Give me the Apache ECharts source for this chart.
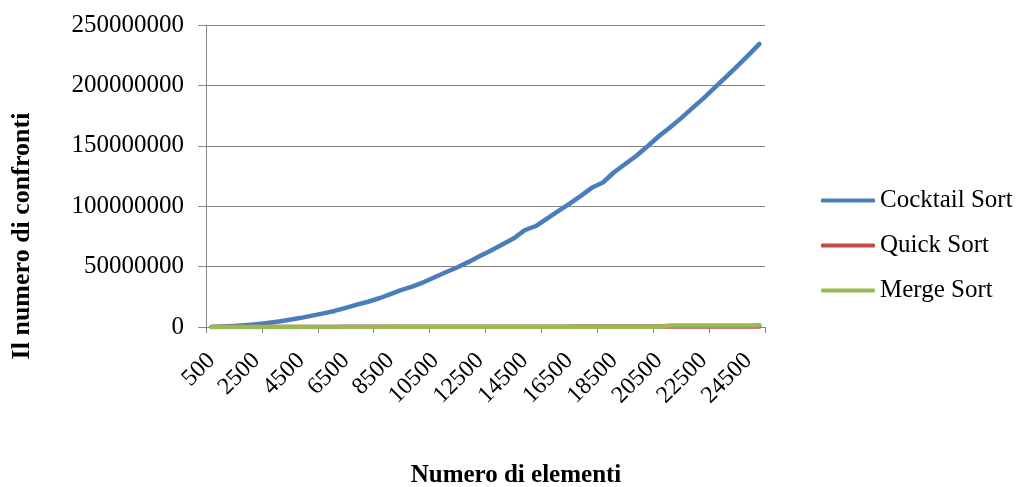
<!DOCTYPE html>
<html>
<head>
<meta charset="utf-8">
<script src="https://cdn.jsdelivr.net/npm/echarts@6/dist/echarts.min.js"></script>
<style>
html,body{margin:0;padding:0;background:#fff;}
#chart{width:1026px;height:487px;}
</style>
</head>
<body>
<div id="chart"></div>
<script>
const categories = [];
for (let n = 500; n <= 25000; n += 500) categories.push(String(n));

const seriesNames = ['Cocktail Sort', 'Quick Sort', 'Merge Sort'];

const cocktailSort = [95000, 380000, 850000, 1520000, 2360000, 3400000, 4610000, 6050000, 7580000, 9450000,
  11300000, 13300000, 15900000, 18500000, 20900000, 23800000, 27300000, 30800000, 33600000, 37200000,
  41400000, 45500000, 49500000, 53900000, 58700000, 63400000, 68200000, 73200000, 80100000, 83600000,
  89800000, 95900000, 102000000, 108300000, 115200000, 119600000, 128100000, 134900000, 141800000, 149600000,
  157900000, 165200000, 172900000, 181200000, 189300000, 198100000, 206900000, 215800000, 224900000, 234400000];

const quickSort = [5800, 13000, 21000, 29000, 37500, 46000, 55000, 64000, 73000, 82000,
  91000, 100500, 110000, 119500, 129000, 138500, 148000, 158000, 167500, 177000,
  187000, 197000, 206500, 216500, 226500, 236500, 246500, 256000, 266500, 276500,
  286500, 296500, 306500, 317000, 327000, 337000, 347500, 357500, 368000, 378000,
  388500, 399000, 409000, 419500, 430000, 440500, 451000, 461500, 472000, 482500];

const mergeSort = [3900, 8700, 14000, 19400, 25000, 30800, 36600, 42600, 48600, 54700,
  60900, 67200, 73500, 79900, 86300, 92800, 99300, 105900, 112500, 119200,
  125900, 132600, 139400, 146200, 153000, 159900, 166800, 173700, 180700, 187700,
  194700, 201800, 208900, 216000, 223100, 230300, 237500, 244700, 251900, 259200,
  266500, 1150000, 1180000, 1210000, 1230000, 1260000, 1290000, 1320000, 1340000, 1370000];

const yTicks = { min: 0, max: 250000000, interval: 50000000 };
const yTitle = 'Il numero di confronti';
const xTitle = 'Numero di elementi';

const FONT = '"Liberation Serif", "Times New Roman", serif';
const GRAY = '#868686';
const colors = ['#4A7EBB', '#BE4B48', '#98B954'];

const chart = echarts.init(document.getElementById('chart'), null, { renderer: 'canvas' });
chart.setOption({
  animation: false,
  color: colors,
  grid: { left: 206, right: 261, top: 25, bottom: 160, containLabel: false },
  xAxis: {
    type: 'category',
    data: categories,
    boundaryGap: true,
    axisLine: { lineStyle: { color: GRAY, width: 1 } },
    axisTick: { show: true, interval: 4, length: 6, lineStyle: { color: GRAY } },
    axisLabel: { interval: 3, rotate: 45, margin: 30, color: '#000', fontFamily: FONT, fontSize: 24 },
    splitLine: { show: false }
  },
  yAxis: {
    type: 'value',
    min: yTicks.min, max: yTicks.max, interval: yTicks.interval,
    axisLine: { show: true, lineStyle: { color: GRAY, width: 1 } },
    axisTick: { show: true, length: 8, lineStyle: { color: GRAY } },
    axisLabel: { margin: 22, color: '#000', fontFamily: FONT, fontSize: 25, formatter: v => String(v) },
    splitLine: { show: true, lineStyle: { color: GRAY, width: 1 } }
  },
  legend: {
    orient: 'vertical',
    left: 816,
    top: 183,
    itemWidth: 54,
    itemHeight: 4,
    itemGap: 20,
    icon: 'roundRect',
    data: seriesNames,
    textStyle: { color: '#000', fontFamily: FONT, fontSize: 25 }
  },
  graphic: [
    {
      type: 'text', x: 22, y: 236, rotation: Math.PI / 2,
      style: { text: yTitle, fill: '#000', font: 'bold 26px ' + FONT, textAlign: 'center', textVerticalAlign: 'middle' }
    },
    {
      type: 'text', x: 516, y: 476,
      style: { text: xTitle, fill: '#000', font: 'bold 25px ' + FONT, textAlign: 'center', textVerticalAlign: 'middle' }
    }
  ],
  series: [
    { name: seriesNames[0], type: 'line', data: cocktailSort, showSymbol: false, lineStyle: { width: 4.5, cap: 'round', join: 'round' } },
    { name: seriesNames[1], type: 'line', data: quickSort, showSymbol: false, lineStyle: { width: 4.5, cap: 'round', join: 'round' } },
    { name: seriesNames[2], type: 'line', data: mergeSort, showSymbol: false, lineStyle: { width: 4.5, cap: 'round', join: 'round' } }
  ]
});
</script>
</body>
</html>
